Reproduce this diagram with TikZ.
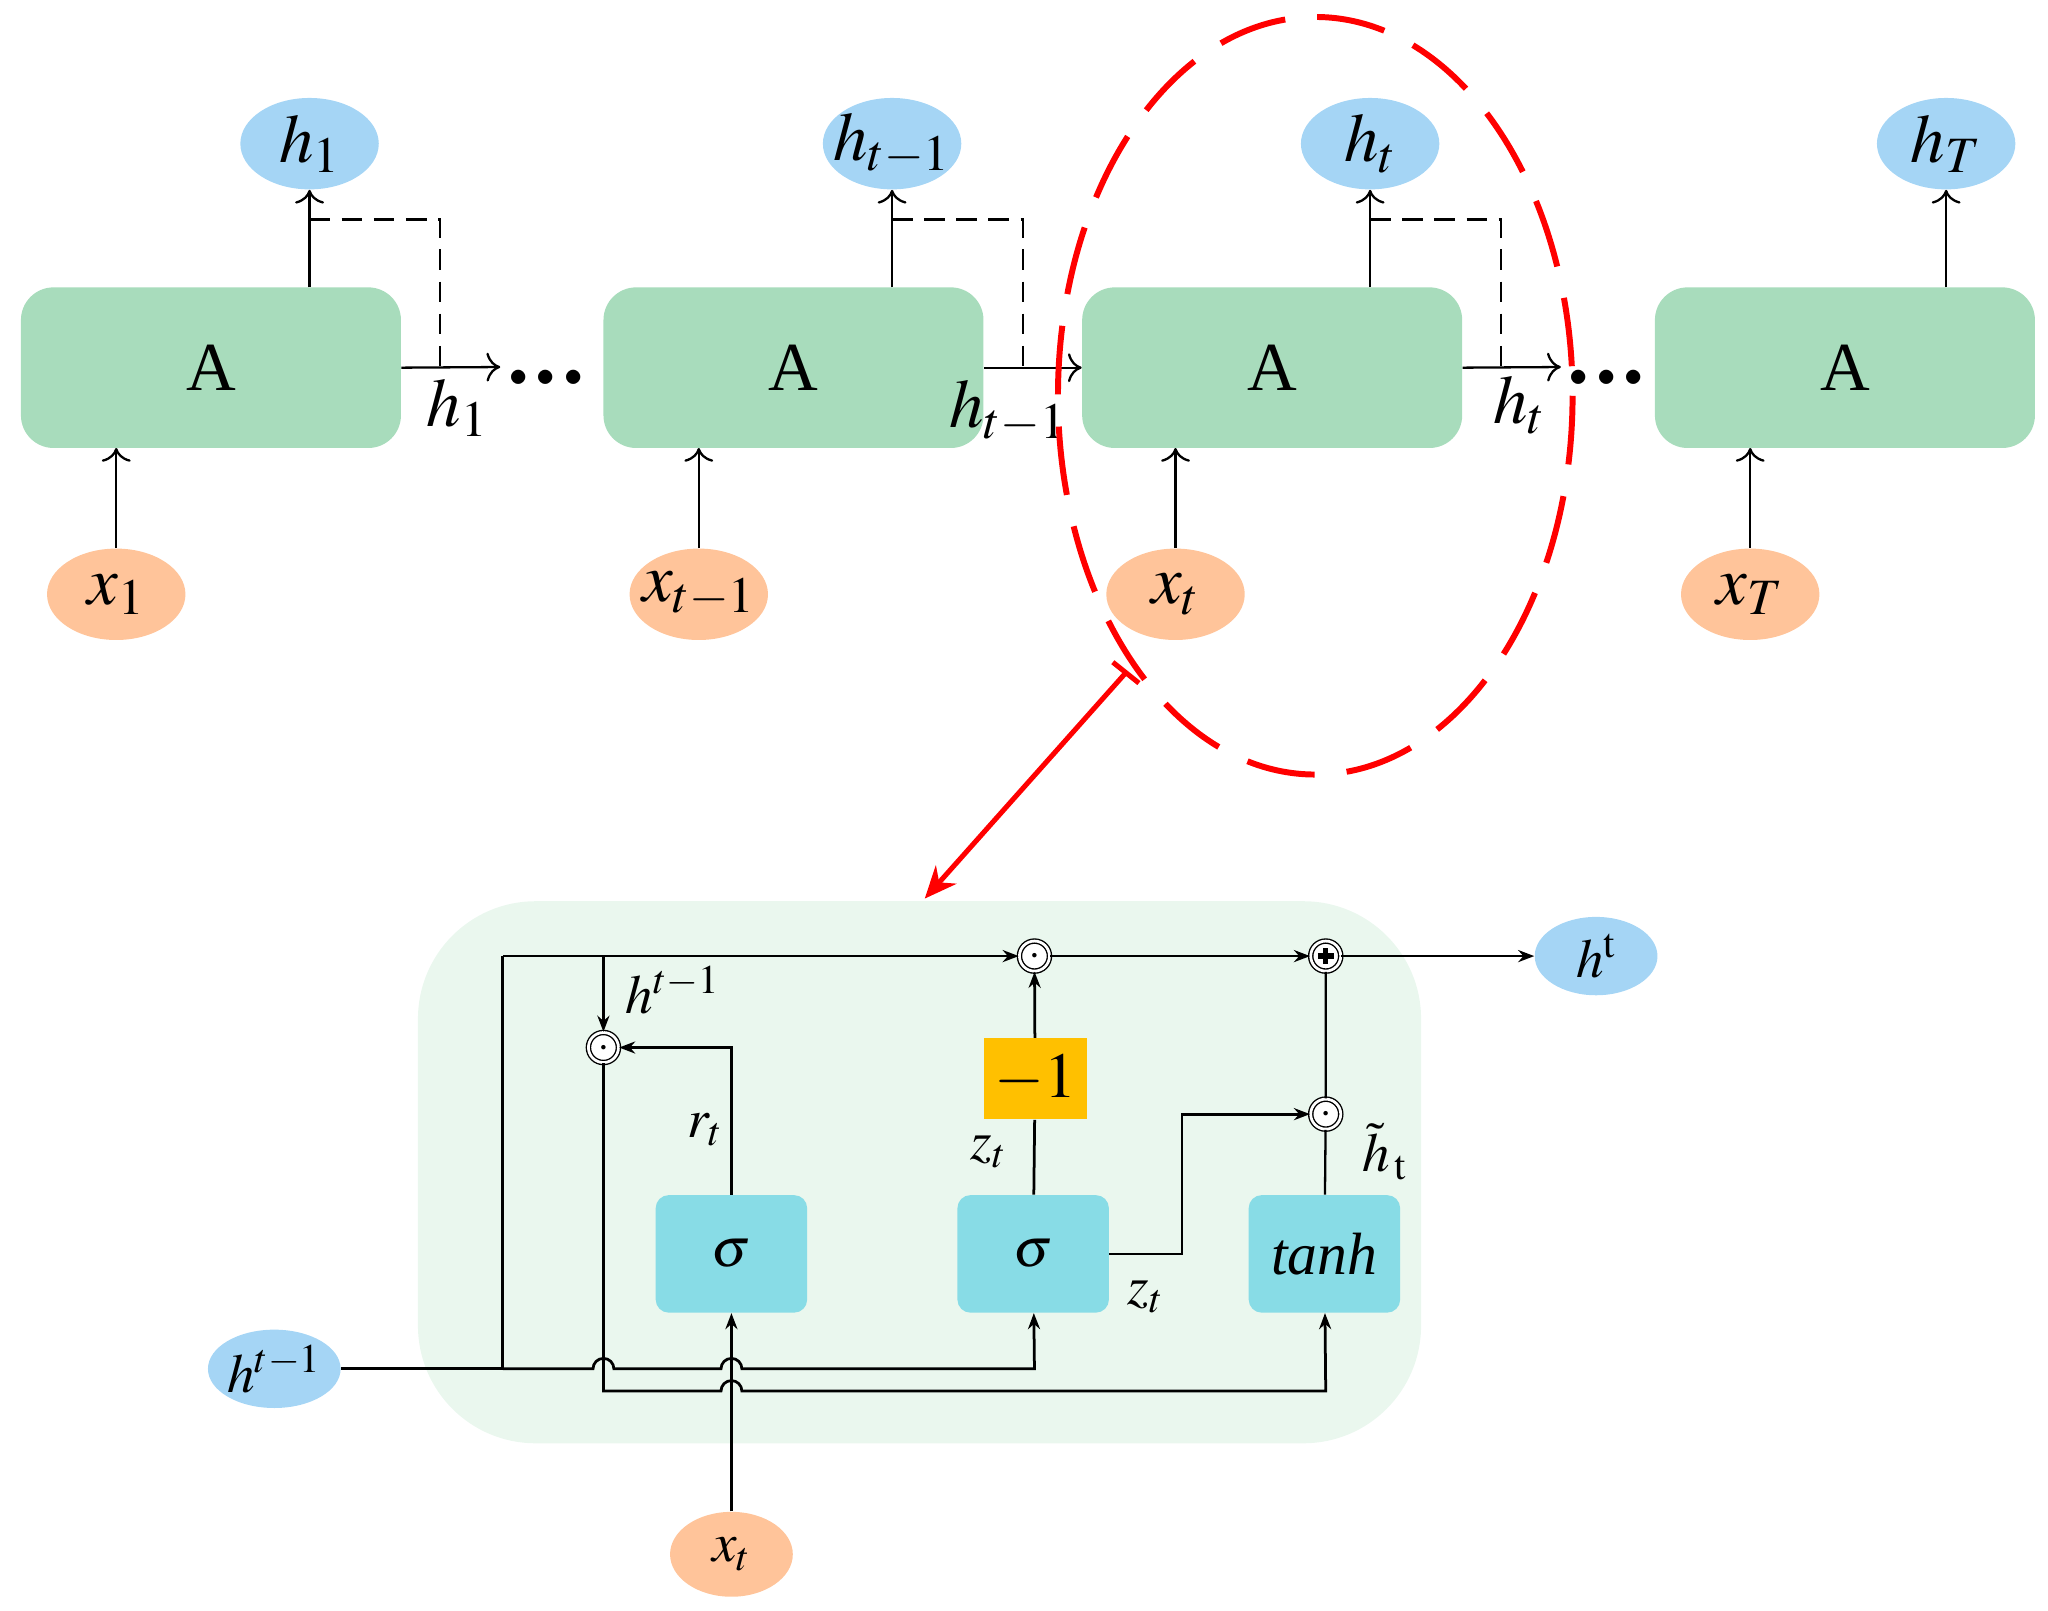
\documentclass[tikz,border=0pt]{standalone}
\usepackage[no-math]{fontspec}
\usepackage{mathptmx}
\setmainfont{Liberation Serif}
\usetikzlibrary{arrows.meta,calc,shapes.geometric}
\definecolor{bgcell}{RGB}{234,247,238}
\begin{document}
\begin{tikzpicture}[x=0.02cm,y=-0.02cm,
 big/.style={font=\fontsize{30}{36}\selectfont},
 mid/.style={font=\fontsize{24}{28}\selectfont},
 cell/.style={draw=none,fill={rgb,255:red,168;green,220;blue,188},rounded corners=0.5cm,minimum width=5.82cm,minimum height=2.46cm,big},
 hout/.style={ellipse,fill={rgb,255:red,165;green,213;blue,245},minimum width=2.12cm,minimum height=1.4cm,inner sep=0pt,big},
 xin/.style={ellipse,fill={rgb,255:red,255;green,196;blue,154},minimum width=2.12cm,minimum height=1.4cm,inner sep=0pt,big},
 gate/.style={fill={rgb,255:red,136;green,220;blue,230},rounded corners=0.2cm,minimum width=2.32cm,minimum height=1.8cm,mid},
 op/.style={circle,draw,double,double distance=1.2pt,line width=0.6pt,fill=white,minimum size=0.46cm,inner sep=0pt},
 oa/.style={->,>={Stealth[length=7pt]},line width=1.2pt},
 ta/.style={->,>={To[length=6pt]},line width=1pt}]
\useasboundingbox (0,0) rectangle (1568,1233);
% top cells
\foreach \n/\x in {a/161.5,b/607.5,c/974,d/1412.5}{
 \node[cell] (\n) at (\x,281.5) {A};}
\node[hout] (h1) at (237,110) {$h_1$};
\node[hout,inner xsep=-6pt] (h2) at (683,110) {$h_{t-1}$};
\node[hout] (h3) at (1049,110) {$h_t$};
\node[hout] (h4) at (1490,110) {$h_T$};
\node[xin] (x1) at (89,455) {$x_1$};
\node[xin,inner xsep=-6pt] (x2) at (535,455) {$x_{t-1}$};
\node[xin] (x3) at (900,455) {$x_t$};
\node[xin] (x4) at (1340,455) {$x_T$};
\draw[ta] (237,220) -- (h1);
\draw[ta] (683,220) -- (h2);
\draw[ta] (1049,220) -- (h3);
\draw[ta] (1490,220) -- (h4);
\draw[ta] (x1) -- (89,343);
\draw[ta] (x2) -- (535,343);
\draw[ta] (x3) -- (900,343);
\draw[ta] (x4) -- (1340,343);
\draw[line width=1pt,dash pattern=on 9pt off 5pt] (237,168) -- (337,168) -- (337,280);
\draw[line width=1pt,dash pattern=on 9pt off 5pt] (683,168) -- (783,168) -- (783,280);
\draw[line width=1pt,dash pattern=on 9pt off 5pt] (1049,168) -- (1149,168) -- (1149,280);
\coordinate (e1) at (383,281);\coordinate (e3) at (1195,281);
\draw[ta] (a.east) -- (e1);
\draw[ta] (b.east) -- (c.west);
\draw[ta] (c.east) -- (e3);
\node[font=\fontsize{16}{16}\selectfont] (d1) at (418,290) {$\bullet\,\bullet\,\bullet$};
\node[font=\fontsize{16}{16}\selectfont] (d2) at (1230,290) {$\bullet\,\bullet\,\bullet$};
\node[big] (l1) at (350,312) {$h_1$};
\node[big] (l2) at (772,315) {$h_{t-1}$};
\node[big] (l3) at (1163,310) {$h_t$};
% red ellipse
\draw[red,line width=2.6pt,dash pattern=on 30pt off 14pt] (1007,303) ellipse [x radius=197,y radius=290];
\coordinate (r0) at (862,515);\coordinate (r1) at (708,688);
\draw[red,line width=2.2pt,-{Stealth[length=14pt,width=12pt]}] (r0) -- (r1);
\draw[red,line width=2.2pt] (852,507) -- (872,523);
% lower cell
\fill[bgcell,rounded corners=1.8cm] (320,690) rectangle (1088,1105);
\node[gate] (s1) at (560,960) {$\sigma$};
\node[gate] (s2) at (791,960) {$\sigma$};
\node[gate,font=\fontsize{26}{30}\selectfont] (tn) at (1014,960) {\itshape tanh};
\node[fill={rgb,255:red,255;green,192;blue,0},minimum width=1.58cm,minimum height=1.24cm,font=\fontsize{28}{30}\selectfont] (m1) at (792.5,826) {$-1$};
\node[op] (o1) at (792,732) {\tiny$\bullet$};
\node[op] (o2) at (462,802) {\tiny$\bullet$};
\node[op] (o3) at (1015,853) {\tiny$\bullet$};
\node[op] (pl) at (1015,732) {};
\draw[line width=2.4pt] ($(pl)+(-6,0)$) -- ($(pl)+(6,0)$) ($(pl)+(0,-6)$) -- ($(pl)+(0,6)$);
\node[hout,minimum width=1.88cm,minimum height=1.2cm,mid] (ht) at (1222,732) {$h^{\mathrm{t}}$};
\node[hout,minimum width=1.88cm,minimum height=1.2cm,mid] (hp) at (210,1048) {$h^{t-1}$};
\node[xin,minimum width=1.88cm,minimum height=1.3cm,mid] (xt) at (560,1190) {$x_t$};
\coordinate (j1) at (385,1048);
\coordinate (j2) at (385,732);
\coordinate (j3) at (462,732);
\draw[line width=1.2pt] (hp) -- (j1) -- (j2);
\draw[oa] (j2) -- (o1);
\draw[oa] (j3) -- (o2);
\draw[oa] (o1) -- (pl);
\draw[oa] (pl) -- (ht);
\draw[oa] (s1.north) |- (o2);
\draw[line width=1.2pt] (s2) -- (m1);
\draw[oa] (m1) -- (o1);
\draw[oa] (s2.east) -- (905,960) |- (o3);
\draw[line width=1pt] (tn) -- (o3) -- (pl);
\draw[oa] (xt) -- (s1);
\draw[oa] (j1) -- (454,1048) arc[start angle=180,end angle=0,radius=0.16cm] -- (552,1048) arc[start angle=180,end angle=0,radius=0.16cm] -- (792,1048) -- (s2);
\draw[oa] (o2) -- (462,1065) -- (552,1065) arc[start angle=180,end angle=0,radius=0.16cm] -- (1015,1065) -- (tn);
\node[mid] (lh) at (515,758) {$h^{t-1}$};
\node[mid] (lr) at (540,865) {$r_t$};
\node[mid] (lz1) at (757,882) {$z_t$};
\node[mid] (lz2) at (877,993) {$z_t$};
\node[mid,inner sep=1pt] (lhh) at (1060,882) {$\tilde h_{\,\mathrm{t}}$};
\end{tikzpicture}
\end{document}
